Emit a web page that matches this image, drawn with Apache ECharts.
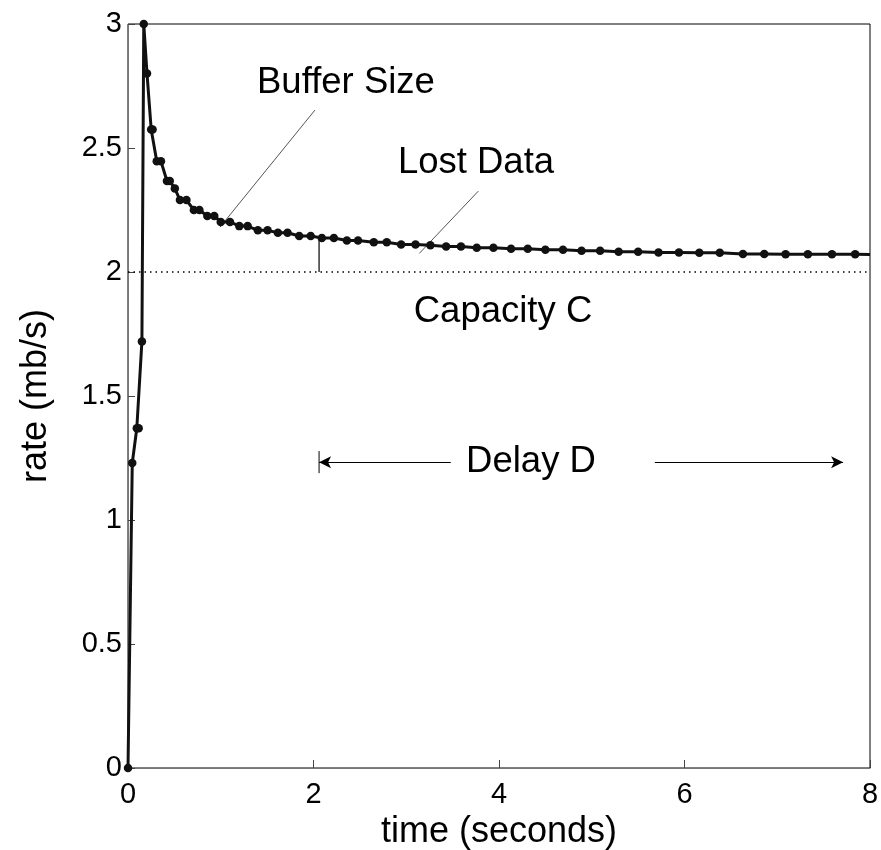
<!DOCTYPE html>
<html>
<head>
	<meta charset="UTF-8">
	<title></title>
	<script type="text/javascript" src="https://cdn.jsdelivr.net/npm/echarts@6/dist/echarts.min.js"></script>
	<style type="text/css">
		html,body{margin:0; padding:0; background:#fff;}
		#chart1{width:881px; height:850px;}
	</style>
</head>
<body>
	<div id="chart1"></div>
	<script type="text/javascript">
		// measured points (time in s, rate in mb/s)
		const timeS = [0, 0.046, 0.095, 0.115, 0.15, 0.17, 0.205, 0.25, 0.265, 0.31, 0.355, 0.42, 0.45, 0.505,
			0.56, 0.63, 0.71, 0.77, 0.855, 0.93, 1.0, 1.10, 1.20, 1.29, 1.40, 1.505, 1.616, 1.72, 1.846, 1.97,
			2.09, 2.22, 2.36, 2.48, 2.65, 2.79, 2.945, 3.10, 3.26, 3.43, 3.59, 3.76, 3.94, 4.13, 4.31, 4.50,
			4.69, 4.89, 5.09, 5.29, 5.50, 5.72, 5.94, 6.16, 6.38, 6.63, 6.86, 7.09, 7.33, 7.59, 7.84];
		const rate = [0, 1.23, 1.37, 1.37, 1.72, 3.0, 2.80, 2.575, 2.575, 2.447, 2.447, 2.367, 2.367, 2.337,
			2.29, 2.29, 2.25, 2.25, 2.226, 2.226, 2.202, 2.202, 2.185, 2.185, 2.168, 2.168, 2.158, 2.158, 2.145, 2.145,
			2.137, 2.137, 2.127, 2.127, 2.12, 2.12, 2.111, 2.111, 2.108, 2.103, 2.103, 2.098, 2.098, 2.094, 2.094, 2.09,
			2.09, 2.086, 2.086, 2.082, 2.082, 2.079, 2.079, 2.078, 2.078, 2.073, 2.073, 2.072, 2.072, 2.072, 2.072];
		const lineEnd = [8, 2.071];   // curve runs on to the right edge, no marker there

		const capacity = 2;
		const xTicks = [0, 2, 4, 6, 8];
		const yTicks = [0, 0.5, 1, 1.5, 2, 2.5, 3];

		// annotations, in data coordinates
		const labels = [
			{name: 'Buffer Size', value: [2.35, 2.762]},
			{name: 'Lost Data', value: [3.752, 2.439]},
			{name: 'Capacity C', value: [4.043, 1.838]},
			{name: 'Delay D', value: [4.345, 1.233]}
		];
		const bufferLeader = [[2.016, 2.653], [0.992, 2.181]];
		const lostLeader = [[3.777, 2.326], [3.141, 2.075]];
		const bufferBar = [[2.06, 2.0], [2.06, 2.137]];
		const delayStartBar = [[2.06, 1.278], [2.06, 1.189]];
		const delayLeftArrow = [[3.48, 1.233], [2.06, 1.233]];
		const delayRightArrow = [[5.68, 1.233], [7.71, 1.233]];

		const font = '"Liberation Sans", Arial, sans-serif';

		let curve = timeS.map((t, i) => [t, rate[i]]);
		curve.push({value: lineEnd, symbol: 'none'});

		function thinLine(pts, color, width){
			return {
				type: 'line', data: pts, symbol: 'none', silent: true,
				lineStyle: {color: color, width: width}, z: 3
			};
		}

		let myChart = echarts.init(document.getElementById('chart1'));
		let option = {
			backgroundColor: '#fff',
			animation: false,
			grid: {
				left: 128, right: 11, top: 24, bottom: 82,
				outerBoundsMode: 'none', containLabel: false,
				show: true, borderColor: '#000', borderWidth: 1
			},
			xAxis: {
				type: 'value', min: xTicks[0], max: xTicks[xTicks.length - 1], interval: 2,
				name: 'time (seconds)', nameLocation: 'middle', nameGap: 43,
				nameTextStyle: {fontFamily: font, fontSize: 36, color: '#000'},
				axisLine: {onZero: false, lineStyle: {color: '#777', width: 1}},
				axisTick: {inside: true, length: 8, lineStyle: {color: '#444'}},
				axisLabel: {fontFamily: font, fontSize: 29, color: '#000', margin: 12},
				splitLine: {show: false}
			},
			yAxis: {
				type: 'value', min: yTicks[0], max: yTicks[yTicks.length - 1], interval: 0.5,
				name: 'rate (mb/s)', nameLocation: 'middle', nameGap: 74, nameRotate: 90,
				nameTextStyle: {fontFamily: font, fontSize: 36, color: '#000'},
				axisLine: {show: true, onZero: false, lineStyle: {color: '#777', width: 1}},
				axisTick: {show: true, inside: true, length: 7, lineStyle: {color: '#444'}},
				axisLabel: {fontFamily: font, fontSize: 29, color: '#000', margin: 6},
				splitLine: {show: false}
			},
			series: [
				{
					type: 'line', data: [[xTicks[0], capacity], [xTicks[xTicks.length - 1], capacity]],
					symbol: 'none', silent: true,
					lineStyle: {color: '#000', width: 1.3, type: [1.5, 4]}, z: 2
				},
				thinLine(bufferLeader, '#555', 1),
				thinLine(lostLeader, '#555', 1),
				thinLine(bufferBar, '#000', 1.2),
				thinLine(delayStartBar, '#000', 1),
				{
					type: 'line', data: [], symbol: 'none', silent: true,
					markLine: {
						silent: true, symbol: ['none', 'arrow'], symbolSize: [9, 12],
						label: {show: false},
						lineStyle: {color: '#000', width: 1, type: 'solid'},
						data: [
							[{coord: delayLeftArrow[0]}, {coord: delayLeftArrow[1]}],
							[{coord: delayRightArrow[0]}, {coord: delayRightArrow[1]}]
						]
					}
				},
				{
					type: 'line', data: curve, symbol: 'circle', symbolSize: 8.5,
					itemStyle: {color: '#111'},
					lineStyle: {color: '#111', width: 3}, z: 5
				},
				{
					type: 'scatter', data: labels, symbolSize: 0, silent: true,
					itemStyle: {opacity: 1},
					label: {
						show: true, position: 'inside', formatter: '{b}',
						fontFamily: font, fontSize: 36.5, color: '#000', opacity: 1
					}
				}
			]
		};
		myChart.setOption(option);
	</script>
</body>
</html>
